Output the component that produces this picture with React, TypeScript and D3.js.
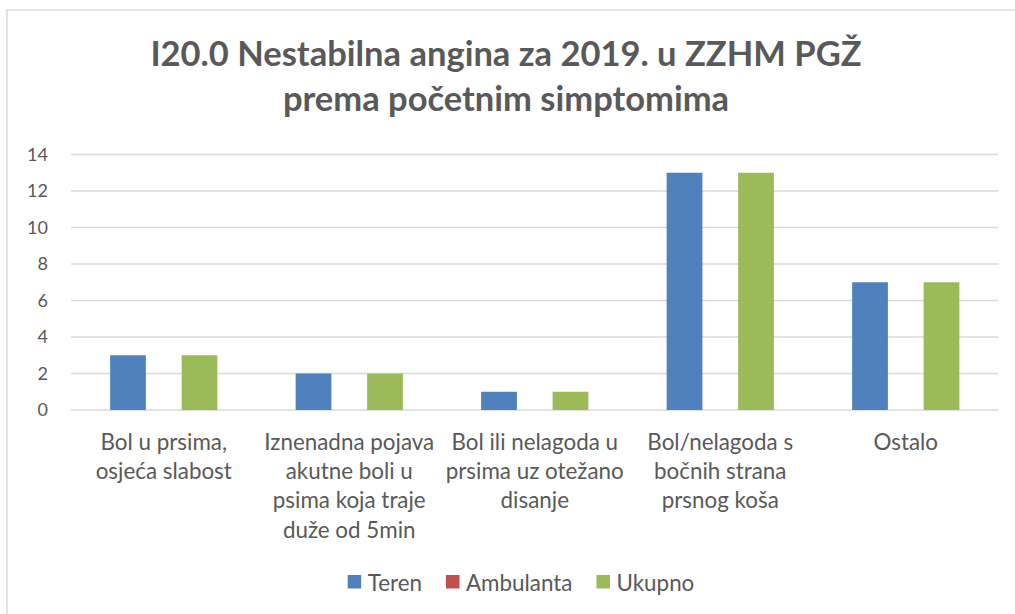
import React, { useEffect, useRef } from "react";
import * as d3 from "d3";

const categories: string[] = [
  "Bol u prsima,\nosjeća slabost",
  "Iznenadna pojava\nakutne boli u\npsima koja traje\nduže od 5min",
  "Bol ili nelagoda u\nprsima uz otežano\ndisanje",
  "Bol/nelagoda s\nbočnih strana\nprsnog koša",
  "Ostalo",
];
const seriesNames: string[] = ["Teren", "Ambulanta", "Ukupno"];
const teren: number[] = [3, 2, 1, 13, 7];
const ambulanta: number[] = [0, 0, 0, 0, 0];
const ukupno: number[] = [3, 2, 1, 13, 7];
const yTicks: number[] = [0, 2, 4, 6, 8, 10, 12, 14];
const titleLines: string[] = [
  "I20.0 Nestabilna angina za 2019. u ZZHM PGŽ",
  "prema početnim simptomima",
];
const colors: string[] = ["#4F81BD", "#C0504D", "#9BBB59"];

const W = 1015;
const H = 614;
const FONT = "Lato, 'Open Sans', sans-serif";
const TXT = "#595959";

export default function App() {
  const ref = useRef<SVGSVGElement | null>(null);

  useEffect(() => {
    const svg = d3.select(ref.current!);
    svg.selectAll("*").remove();

    // chart border
    svg
      .append("rect")
      .attr("x", 7)
      .attr("y", 10)
      .attr("width", 1030)
      .attr("height", 640)
      .attr("fill", "#ffffff")
      .attr("stroke", "#d9d9d9")
      .attr("stroke-width", 1.5);

    // title
    const title = svg
      .append("text")
      .attr("x", 506)
      .attr("text-anchor", "middle")
      .attr("font-family", FONT)
      .attr("font-weight", "bold")
      .attr("font-size", 34.5)
      .attr("fill", TXT);
    titleLines.forEach((l, i) => {
      title
        .append("tspan")
        .attr("x", 506)
        .attr("y", 65.5 + i * 45.5)
        .text(l);
    });

    const left = 71;
    const right = 998.5;
    const top = 154.5;
    const bottom = 410;

    const y = d3.scaleLinear().domain([0, 14]).range([bottom, top]);
    const x0 = d3
      .scaleBand<string>()
      .domain(categories)
      .range([left, right])
      .paddingInner(0)
      .paddingOuter(0);
    const step = x0.step();
    const bw = step / (3 + 2.19);
    const x1 = d3
      .scaleBand<string>()
      .domain(seriesNames)
      .range([0, 3 * bw])
      .padding(0);

    // gridlines
    svg
      .append("g")
      .selectAll("line")
      .data(yTicks)
      .join("line")
      .attr("x1", left)
      .attr("x2", right)
      .attr("y1", (d) => y(d))
      .attr("y2", (d) => y(d))
      .attr("stroke", "#d9d9d9")
      .attr("stroke-width", 1.3);

    // y labels
    svg
      .append("g")
      .selectAll("text")
      .data(yTicks)
      .join("text")
      .attr("x", 48)
      .attr("y", (d) => y(d))
      .attr("dy", "0.35em")
      .attr("text-anchor", "end")
      .attr("font-family", FONT)
      .attr("font-size", 18)
      .attr("fill", TXT)
      .text((d) => String(d));

    const values = [teren, ambulanta, ukupno];
    const groups = svg
      .append("g")
      .selectAll("g")
      .data(categories)
      .join("g")
      .attr(
        "transform",
        (c) => `translate(${x0(c)! + (step - 3 * bw) / 2},0)`
      );
    groups
      .selectAll("rect")
      .data((c) =>
        seriesNames.map((s, k) => ({ s, v: values[k][categories.indexOf(c)], k }))
      )
      .join("rect")
      .attr("x", (d) => x1(d.s)!)
      .attr("width", x1.bandwidth())
      .attr("y", (d) => y(d.v))
      .attr("height", (d) => bottom - y(d.v))
      .attr("fill", (d) => colors[d.k]);

    // category labels
    categories.forEach((c) => {
      const cx = x0(c)! + step / 2;
      const t = svg
        .append("text")
        .attr("text-anchor", "middle")
        .attr("font-family", FONT)
        .attr("font-size", 22.4)
        .attr("fill", TXT);
      c.split("\n").forEach((line, i) => {
        t.append("tspan")
          .attr("x", cx)
          .attr("y", 450 + i * 29.2)
          .text(line);
      });
    });

    // legend
    const lg = svg.append("g");
    const items = seriesNames.map((s, i) => {
      const g = lg.append("g");
      g.append("rect")
        .attr("x", 0)
        .attr("y", 575)
        .attr("width", 13.5)
        .attr("height", 13.5)
        .attr("fill", colors[i]);
      const t = g
        .append("text")
        .attr("x", 20)
        .attr("y", 590.5)
        .attr("font-family", FONT)
        .attr("font-size", 22.4)
        .attr("fill", TXT)
        .text(s);
      const w = 20 + (t.node() as SVGTextElement).getComputedTextLength();
      return { g, w };
    });
    const gap = 24;
    const total = items.reduce((a, b) => a + b.w, 0) + gap * (items.length - 1);
    let cur = 521 - total / 2;
    items.forEach((it) => {
      it.g.attr("transform", `translate(${cur},0)`);
      cur += it.w + gap;
    });
  }, []);

  return (
    <svg
      ref={ref}
      width={W}
      height={H}
      style={{ position: "absolute", left: 0, top: 0, display: "block" }}
    />
  );
}
